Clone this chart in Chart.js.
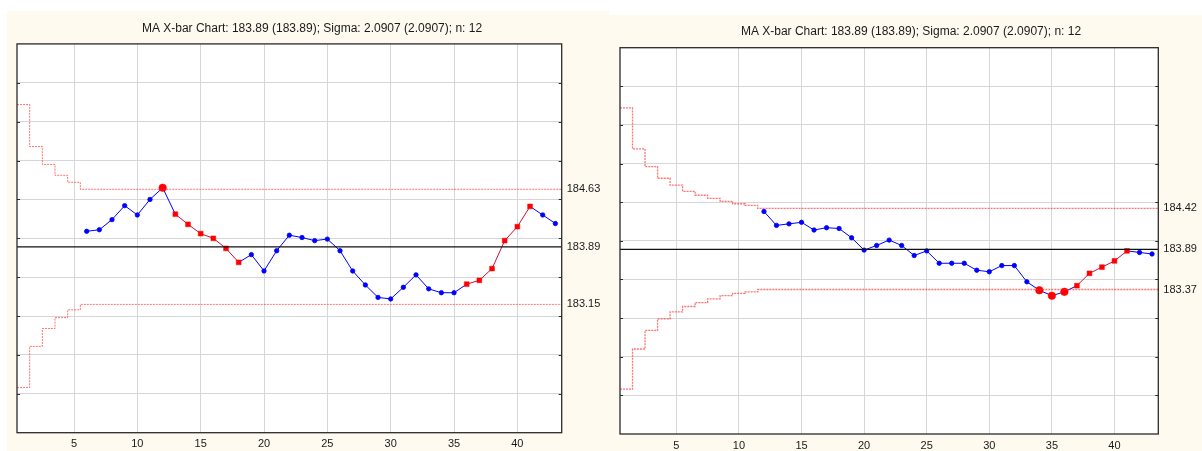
<!DOCTYPE html>
<html><head><meta charset="utf-8">
<script src="https://cdn.jsdelivr.net/npm/chart.js@4.4.0/dist/chart.umd.min.js"></script>
<style>
html,body{margin:0;padding:0;background:#fff;width:1202px;height:451px;overflow:hidden;position:relative;}
.panel{position:absolute;background:#fffaef;}
#p1{left:7px;top:11px;width:602px;height:440px;}
#p2{left:609px;top:15px;width:593px;height:436px;}
canvas{position:absolute;display:block;}
#c1{left:7px;top:11px;}
#c2{left:609px;top:15px;}
</style></head><body>
<div class="panel" id="p1"></div>
<div class="panel" id="p2"></div>
<canvas id="c1" width="610" height="440"></canvas>
<canvas id="c2" width="604" height="436"></canvas>
<script>
const titleText = 'MA X-bar Chart: 183.89 (183.89); Sigma: 2.0907 (2.0907); n: 12';
const xTicks = [5, 10, 15, 20, 25, 30, 35, 40];
const yGrid = [182, 182.5, 183, 183.5, 184, 184.5, 185, 185.5, 186];
const sampleCount = 43;
const centerLine = 183.89;

// Left chart (span 6)
const leftStart = 6;
const leftMA = [184.09,184.11,184.24,184.42,184.30,184.50,184.65,184.31,184.18,184.06,184.00,183.87,183.69,183.79,183.58,183.84,184.04,184.01,183.97,183.99,183.84,183.58,183.40,183.24,183.22,183.37,183.53,183.35,183.30,183.30,183.41,183.46,183.61,183.97,184.15,184.41,184.30,184.19];
const leftFlags = [0,0,0,0,0,0,2,1,1,1,1,1,1,0,0,0,0,0,0,0,0,0,0,0,0,0,0,0,0,0,1,1,1,1,1,1,0,0];
const leftUCL = [185.72,185.18,184.95,184.81,184.72,184.63];
const leftLCL = [182.08,182.61,182.84,182.98,183.08,183.15];
const leftLabels = [184.63, 183.89, 183.15];

// Right chart (span 12)
const rightStart = 12;
const rightMA = [184.38,184.20,184.22,184.24,184.14,184.17,184.16,184.04,183.88,183.94,184.01,183.94,183.81,183.87,183.71,183.71,183.71,183.62,183.60,183.68,183.68,183.47,183.36,183.29,183.34,183.42,183.58,183.66,183.74,183.87,183.85,183.83];
const rightFlags = [0,0,0,0,0,0,0,0,0,0,0,0,0,0,0,0,0,0,0,0,0,0,2,2,2,1,1,1,1,1,0,0];
const rightUCL = [185.72,185.19,184.96,184.81,184.72,184.64,184.59,184.55,184.51,184.48,184.46,184.42];
const rightLCL = [182.08,182.60,182.84,182.99,183.08,183.15,183.20,183.25,183.29,183.32,183.34,183.37];
const rightLabels = [184.42, 183.89, 183.37];

const FONT = '"Liberation Sans", Arial, sans-serif';
const BLUE = '#0000ff';
const RED = '#ff0000';
const RUNLINE = '#c8103e';
const LIMIT = 'rgba(255,40,40,0.65)';

function stepData(lim) {
  const last = lim[lim.length - 1];
  const pts = [{x: 0.5, y: lim[0]}];
  for (let k = 1; k <= sampleCount; k++) pts.push({x: k, y: lim[Math.min(k - 1, lim.length - 1)]});
  pts.push({x: sampleCount + 0.5, y: last});
  return pts;
}

const boxPlugin = {
  id: 'box',
  beforeDraw(chart) {
    const {ctx, chartArea: a} = chart;
    ctx.save();
    ctx.fillStyle = '#ffffff';
    ctx.fillRect(a.left, a.top, a.right - a.left, a.bottom - a.top);
    ctx.restore();
  },
  afterDraw(chart) {
    const {ctx, chartArea: a, scales} = chart;
    ctx.save();
    ctx.strokeStyle = '#2a2a2a';
    ctx.lineWidth = 1.3;
    ctx.strokeRect(a.left, a.top, a.right - a.left, a.bottom - a.top);
    ctx.lineWidth = 1;
    ctx.beginPath();
    yGrid.forEach(v => {
      const py = Math.round(scales.y.getPixelForValue(v)) + 0.5;
      ctx.moveTo(a.left, py); ctx.lineTo(a.left + 3, py);
      ctx.moveTo(a.right, py); ctx.lineTo(a.right - 3, py);
    });
    ctx.stroke();
    ctx.restore();
  }
};

function makeChart(id, g) {
  const maData = g.ma.map((v, i) => ({x: g.start + i, y: v}));
  const flags = g.flags;
  new Chart(document.getElementById(id), {
    type: 'line',
    data: {
      datasets: [
        {data: stepData(g.ucl), stepped: 'middle', borderColor: LIMIT, borderWidth: g.limW, borderDash: [2, 1], pointRadius: 0, fill: false},
        {data: stepData(g.lcl), stepped: 'middle', borderColor: LIMIT, borderWidth: g.limW, borderDash: [2, 1], pointRadius: 0, fill: false},
        {data: [{x: 0.5, y: centerLine}, {x: sampleCount + 0.5, y: centerLine}], borderColor: '#111', borderWidth: 1.2, pointRadius: 0, fill: false},
        {
          data: maData,
          borderColor: BLUE,
          borderWidth: 1,
          tension: 0,
          fill: false,
          segment: {borderColor: c => (flags[c.p0DataIndex] === 1 && flags[c.p1DataIndex] === 1) ? RUNLINE : BLUE},
          pointStyle: flags.map(f => f === 1 ? 'rect' : 'circle'),
          pointRadius: flags.map(f => f === 2 ? 3.8 : (f === 1 ? 3.4 : 2.2)),
          pointBorderWidth: flags.map(f => f === 0 ? 0.8 : 0.5),
          pointBackgroundColor: flags.map(f => f === 0 ? BLUE : RED),
          pointBorderColor: flags.map(f => f === 0 ? BLUE : RED)
        }
      ]
    },
    options: {
      responsive: false,
      animation: false,
      layout: {padding: 0},
      plugins: {
        legend: {display: false},
        tooltip: {enabled: false},
        title: {display: true, text: titleText, color: '#1a1a1a', font: {family: FONT, size: 12, weight: 'normal'}, padding: {top: g.tTop, bottom: g.tBot}}
      },
      scales: {
        x: {
          type: 'linear', min: 0.5, max: sampleCount + 0.5,
          afterBuildTicks: s => { s.ticks = xTicks.map(v => ({value: v})); },
          afterFit: s => { s.height = g.bottomH; },
          grid: {color: '#d6d6d6', lineWidth: 1, drawTicks: false},
          border: {display: false},
          ticks: {padding: 5, color: '#1a1a1a', font: {family: FONT, size: 11}, maxRotation: 0, autoSkip: false}
        },
        y: {
          type: 'linear', min: 181.5, max: 186.5,
          afterBuildTicks: s => { s.ticks = yGrid.map(v => ({value: v})); },
          afterFit: s => { s.width = g.leftW; },
          grid: {color: '#d6d6d6', lineWidth: 1, drawTicks: false},
          border: {display: false},
          ticks: {display: false}
        },
        y2: {
          type: 'linear', position: 'right', min: 181.5, max: 186.5,
          afterBuildTicks: s => { s.ticks = g.labels.map(v => ({value: v})); },
          afterFit: s => { s.width = g.rightW; },
          grid: {display: false, drawTicks: false},
          border: {display: false},
          ticks: {padding: 5, color: '#1a1a1a', font: {family: FONT, size: 11}, callback: v => v.toFixed(2)}
        }
      }
    },
    plugins: [boxPlugin]
  });
}

makeChart('c1', {start: leftStart, ma: leftMA, flags: leftFlags, ucl: leftUCL, lcl: leftLCL, labels: leftLabels,
  leftW: 10, rightW: 55.3, bottomH: 18.3, tTop: 10, tBot: 8.5, limW: 1});
makeChart('c2', {start: rightStart, ma: rightMA, flags: rightFlags, ucl: rightUCL, lcl: rightLCL, labels: rightLabels,
  leftW: 11, rightW: 54.7, bottomH: 17, tTop: 9, tBot: 9.3, limW: 1.3});
</script>
</body></html>
